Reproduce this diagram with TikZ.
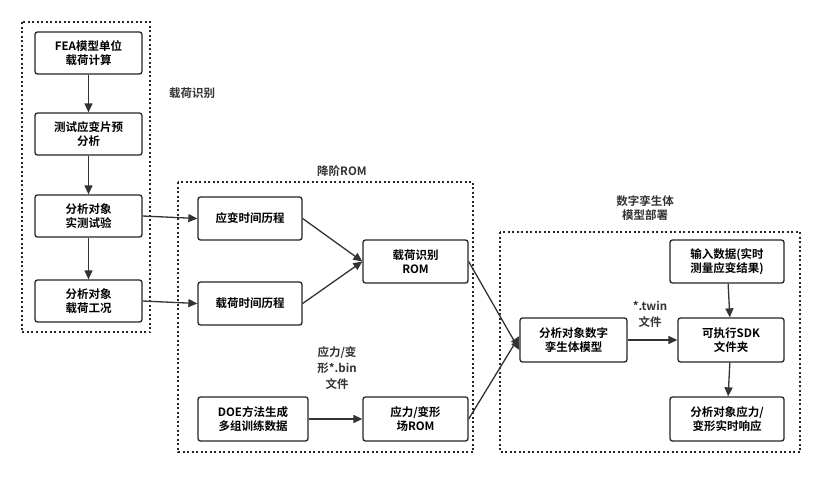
\documentclass[tikz,border=0pt]{standalone}
\usepackage{fontspec}
\setmainfont{Noto Sans CJK SC}[BoldFont={Noto Sans CJK SC Bold}]
\usetikzlibrary{arrows.meta}
\begin{document}
\begin{tikzpicture}[x=1pt,y=-1pt,
  font=\fontsize{11.5}{14}\selectfont\bfseries,
  bx/.style={draw=black!85,line width=1.3pt,rounded corners=2.5pt,align=center,inner sep=0pt},
  frame/.style={draw=black!85,line width=1.3pt,dash pattern=on 2pt off 2.5pt},
  ar/.style={draw=black!80,line width=1.3pt,-{Triangle[length=9pt,width=8pt]}},
  lbl/.style={align=center,text=black!80}]
\useasboundingbox[fill=white] (0,0) rectangle (822,477);
\draw[frame] (22,22) rectangle (150,332);
\draw[frame] (178,182) rectangle (473,452);
\draw[frame] (500,232) rectangle (800,452);
\node[lbl] (l1) at (192,93) {载荷识别};
\node[lbl] (l2) at (342,171) {降阶ROM};
\node[lbl,font=\fontsize{11.5}{13.5}\selectfont\bfseries] (l3) at (645,208) {数字孪生体\\模型部署};
\node[lbl,font=\fontsize{11.5}{16}\selectfont\bfseries] (l4) at (337,368) {应力/变\\形*.bin\\文件};
\node[lbl,font=\fontsize{11.5}{16}\selectfont\bfseries] (l5) at (650,314) {*.twin\\文件};
\newcommand{\bxat}[6]{\node[bx,minimum width=#4-#2,minimum height=#5-#3] (#1) at ({(#2+#4)/2},{(#3+#5)/2}) {#6};}
\bxat{a}{35}{32}{142}{74}{FEA模型单位\\载荷计算}
\bxat{b}{35}{113}{142}{155}{测试应变片预\\分析}
\bxat{c}{35}{195}{142}{237}{分析对象\\实测试验}
\bxat{d}{35}{280}{142}{322}{分析对象\\载荷工况}
\bxat{e}{198}{197}{302}{240}{应变时间历程}
\bxat{f}{198}{282}{302}{325}{载荷时间历程}
\bxat{g}{363}{240}{468}{283}{载荷识别\\ROM}
\bxat{h}{198}{397}{308}{441}{DOE方法生成\\多组训练数据}
\bxat{i}{363}{397}{468}{441}{应力/变形\\场ROM}
\bxat{j}{520}{318}{627}{362}{分析对象数字\\孪生体模型}
\bxat{k}{670}{240}{784}{283}{输入数据(实时\\测量应变结果)}
\bxat{m}{678}{318}{784}{362}{可执行SDK\\文件夹}
\bxat{n}{670}{397}{784}{441}{分析对象应力/\\变形实时响应}
\draw[ar] (a) -- (b);
\draw[ar] (b) -- (c);
\draw[ar] (c) -- (d);
\draw[ar] (c.east) -- (e.west);
\draw[ar] (d.east) -- (f.west);
\draw[ar] (e.east) -- (g.west);
\draw[ar] (f.east) -- (g.west);
\draw[ar] (h.east) -- (i.west);
\draw[ar] (g.east) -- ([yshift=-10pt]j.west);
\draw[ar] (i.east) -- ([yshift=4pt]j.west);
\draw[ar] (j.east) -- (m.west);
\draw[ar] (k) -- (m);
\draw[ar] (m) -- (n);
\end{tikzpicture}
\end{document}
